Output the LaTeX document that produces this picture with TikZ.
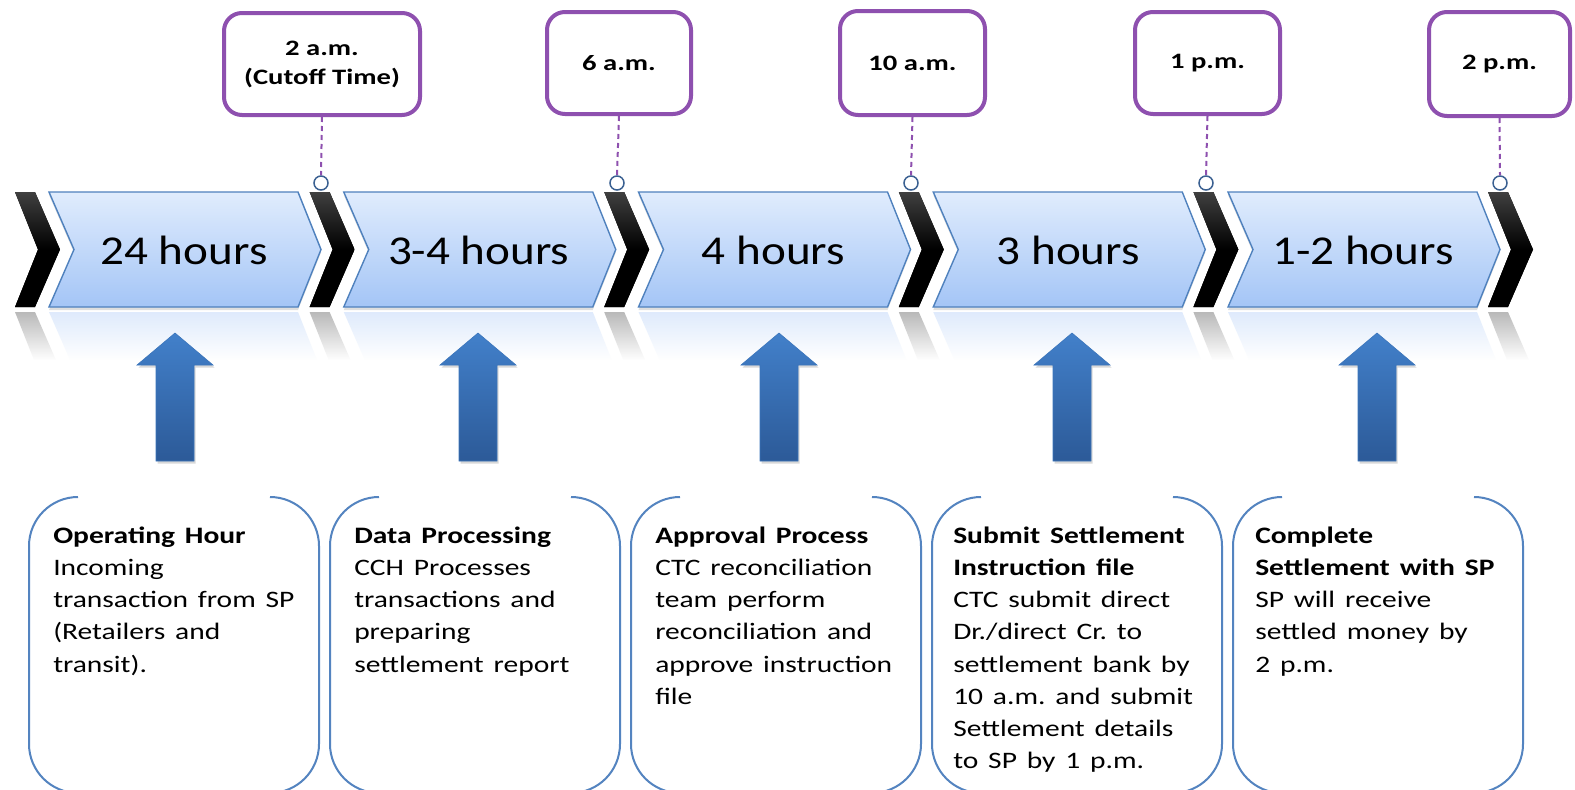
\documentclass[tikz,border=0pt]{standalone}
\usepackage{fontspec}
\setmainfont{Carlito}
\usetikzlibrary{fadings,shadows}
\definecolor{tpurple}{RGB}{142,80,175}
\definecolor{bartop}{RGB}{224,236,253}
\definecolor{barbot}{RGB}{164,197,246}
\definecolor{barline}{RGB}{79,129,189}
\definecolor{arrtop}{RGB}{66,128,202}
\definecolor{arrbot}{RGB}{44,90,152}
\definecolor{boxline}{RGB}{84,132,192}
\definecolor{dotline}{RGB}{58,96,145}
\tikzfading[name=fadedown, top color=transparent!50, bottom color=transparent!100]
\newcommand{\wtxt}[1]{\scalebox{1.3}[1]{#1}}
\frenchspacing
\tikzset{
  bar/.style={top color=bartop, bottom color=barbot, draw=barline, line width=1.4pt, line join=miter,
    drop shadow={shadow xshift=0pt, shadow yshift=-3pt, opacity=0.25}},
  blackchev/.style={top color=black!75, bottom color=black, middle color=black},
  barrefl/.style={fill=barbot!70!white, path fading=fadedown},
  chevrefl/.style={fill=black!55, path fading=fadedown},
  durlabel/.style={font=\fontsize{41}{44}\selectfont, inner sep=0pt, xscale=1.15},
  timebox/.style={draw=tpurple, line width=4pt, rounded corners=18pt, fill=white, align=center,
    font=\bfseries\fontsize{22}{29}\selectfont, inner sep=0pt},
  dotc/.style={circle, draw=dotline, line width=1.5pt, fill=white, minimum size=14pt, inner sep=0pt},
  tdash/.style={draw=tpurple, line width=2pt, dash pattern=on 5pt off 4pt},
  uparrow/.style={top color=arrtop, bottom color=arrbot, draw=arrtop!70!arrbot, line width=0.6pt,
    drop shadow={shadow xshift=1.5pt, shadow yshift=-2.5pt, opacity=0.3}},
  descbox/.style={draw=boxline, line width=2pt},
  desctext/.style={anchor=north west, inner sep=0pt, text width=225pt, align=left, xscale=1.25,
    font=\fontsize{23.6}{32.2}\selectfont}
}
\begin{document}
\begin{tikzpicture}[x=1pt,y=-1pt]
\useasboundingbox (0,0) rectangle (1575,790);
\clip (0,0) rectangle (1575,790);
\fill[white] (0,0) rectangle (1575,790);

% reflections
\foreach \k in {0,...,4}{
  \pgfmathsetmacro\L{49+294.75*\k}
  \fill[barrefl] (\L,312) -- (\L+249,312) -- (\L+268,360) -- (\L+21,360) -- cycle;
}
\foreach \k in {0,...,5}{
  \pgfmathsetmacro\X{15+294.6*\k}
  \fill[chevrefl] (\X,312) -- (\X+20,312) -- (\X+41,360) -- (\X+19,360) -- cycle;
}

% blue chevron bars
\foreach \k in {0,...,4}{
  \pgfmathsetmacro\L{49+294.75*\k}
  \path[bar] (\L,192) -- (\L+249,192) -- (\L+272,249.5) -- (\L+249,307) -- (\L,307) -- (\L+25,249.5) -- cycle;
}
% black chevrons
\foreach \k in {0,...,5}{
  \pgfmathsetmacro\X{15+294.6*\k}
  \fill[blackchev] (\X,192) -- (\X+20,192) -- (\X+45,249.5) -- (\X+20,307) -- (\X,307) -- (\X+23,249.5) -- cycle;
}

% duration labels
\node[durlabel] (d1) at (184,250) {24 hours};
\node[durlabel] (d2) at (478.75,250) {3-4 hours};
\node[durlabel] (d3) at (773.5,250) {4 hours};
\node[durlabel] (d4) at (1068.25,250) {3 hours};
\node[durlabel] (d5) at (1363,250) {1-2 hours};

% time boxes
\node[timebox, minimum width=196pt, minimum height=102pt] (t1) at (322,64) {\wtxt{2 a.m.}\\\wtxt{(Cutoff Time)}};
\node[timebox, minimum width=144pt, minimum height=102pt] (t2) at (619,63) {\wtxt{6 a.m.}};
\node[timebox, minimum width=145pt, minimum height=104pt] (t3) at (912.5,63) {\wtxt{10 a.m.}};
\node[timebox, minimum width=145pt, minimum height=102pt] (t4) at (1207.5,63) {\wtxt{1 p.m.}};
\node[timebox, minimum width=141pt, minimum height=104pt] (t5) at (1499.5,64) {\wtxt{2 p.m.}};

% markers
\node[dotc] (c1) at (321,183) {};
\node[dotc] (c2) at (617,183) {};
\node[dotc] (c3) at (911,183) {};
\node[dotc] (c4) at (1206,183) {};
\node[dotc] (c5) at (1500,183) {};
\draw[tdash] (t1.south) -- (c1.north);
\draw[tdash] (t2.south) -- (c2.north);
\draw[tdash] (t3.south) -- (c3.north);
\draw[tdash] (t4.south) -- (c4.north);
\draw[tdash] (t5.south) -- (c5.north);

% up arrows
\foreach \c in {175,478,779,1072,1377}{
  \path[uparrow] (\c,333) -- (\c+38,365) -- (\c+19,365) -- (\c+19,461) -- (\c-19,461) -- (\c-19,365) -- (\c-38,365) -- cycle;
}

% description boxes (open top)
\foreach \L in {29,330,631,932,1233}{
  \draw[descbox] (\L+49,497) .. controls (\L+22,497) and (\L,519) .. (\L,546)
     -- (\L,744) .. controls (\L,771) and (\L+22,793) .. (\L+49,793)
     -- (\L+241,793) .. controls (\L+268,793) and (\L+290,771) .. (\L+290,744)
     -- (\L+290,546) .. controls (\L+290,519) and (\L+268,497) .. (\L+241,497);
}

\node[desctext] (b1) at (53,520.5) {\strut\textbf{Operating Hour}\\Incoming\\transaction from SP\\(Retailers and\\transit).};
\node[desctext] (b2) at (354,520.5) {\strut\textbf{Data Processing}\\CCH Processes\\transactions and\\preparing\\settlement report};
\node[desctext] (b3) at (655,520.5) {\strut\textbf{Approval Process}\\CTC reconciliation\\team perform\\reconciliation and\\approve instruction\\file};
\node[desctext] (b4) at (953,520.5) {\strut\textbf{Submit Settlement}\\\textbf{Instruction file}\\CTC submit direct\\Dr./direct Cr. to\\settlement bank by\\10 a.m. and submit\\Settlement details\\to SP by 1 p.m.};
\node[desctext] (b5) at (1255,520.5) {\strut\textbf{Complete}\\\textbf{Settlement with SP}\\SP will receive\\settled money by\\2 p.m.};
\end{tikzpicture}
\end{document}
